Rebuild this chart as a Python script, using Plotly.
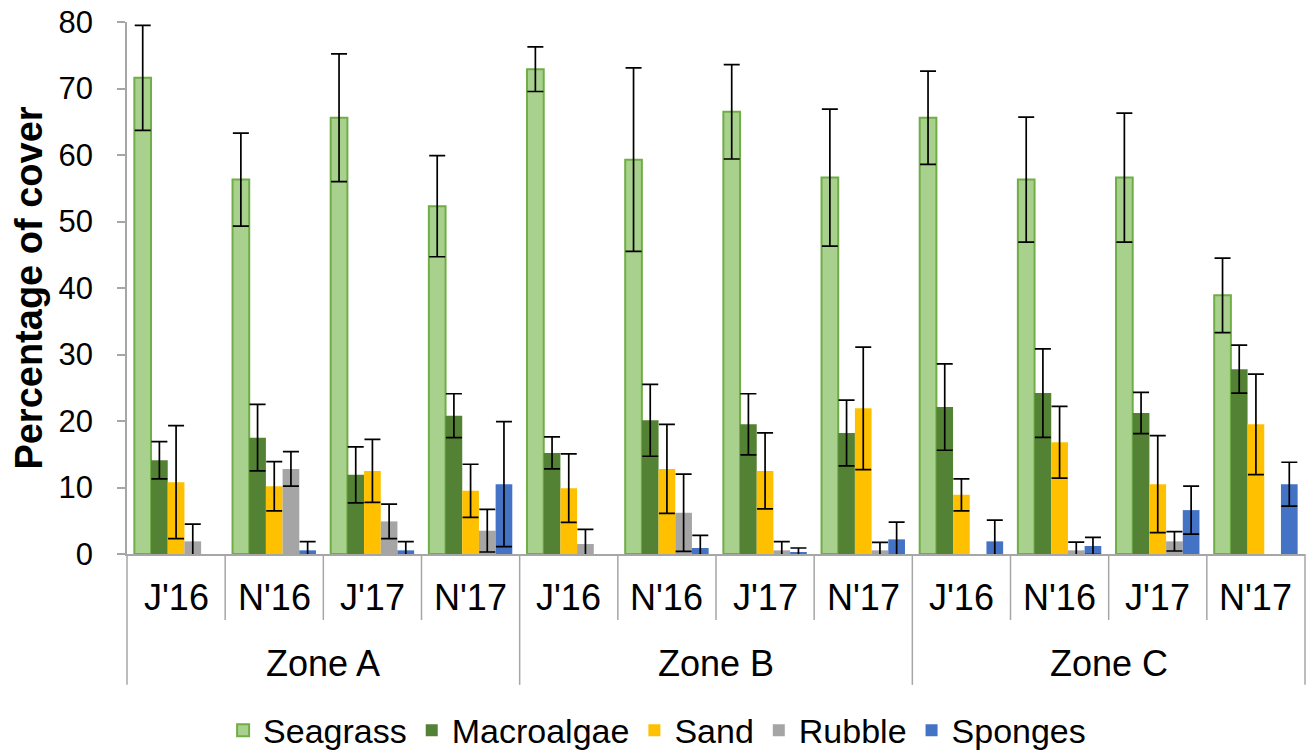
import plotly.graph_objects as go

zones = ["Zone A", "Zone B", "Zone C"]
periods = ["J'16", "N'16", "J'17", "N'17"]

seagrass = [71.6, 56.3, 65.6, 52.3, 72.9, 59.3, 66.5, 56.6, 65.6, 56.3, 56.6, 38.9]
seagrass_err = [7.9, 7.0, 9.6, 7.6, 3.35, 13.8, 7.1, 10.3, 7.0, 9.4, 9.7, 5.6]
macroalgae = [14.1, 17.5, 11.9, 20.8, 15.2, 20.1, 19.5, 18.2, 22.1, 24.2, 21.2, 27.8]
macroalgae_err = [2.8, 5.0, 4.2, 3.3, 2.4, 5.4, 4.6, 4.95, 6.5, 6.65, 3.1, 3.6]
sand = [10.8, 10.2, 12.5, 9.5, 9.9, 12.8, 12.5, 21.9, 8.9, 16.8, 10.5, 19.5]
sand_err = [8.5, 3.7, 4.75, 4.0, 5.15, 6.7, 5.7, 9.2, 2.4, 5.4, 7.3, 7.55]
rubble = [1.9, 12.8, 4.9, 3.5, 1.5, 6.2, 0.55, 0.55, None, 0.55, 1.9, None]
rubble_err = [2.6, 2.6, 2.6, 3.2, 2.2, 5.8, 1.3, 1.2, None, 1.25, 1.45, None]
sponges = [None, 0.55, 0.55, 10.5, None, 0.9, 0.2, 2.2, 1.9, 1.2, 6.6, 10.5]
sponges_err = [None, 1.3, 1.3, 9.4, None, 1.9, 0.7, 2.6, 3.2, 1.3, 3.6, 3.3]

y_ticks = [0, 10, 20, 30, 40, 50, 60, 70, 80]

outer = [z for z in zones for _ in periods]
inner = [p for _ in zones for p in periods]
x = [outer, inner]

FONT = "Liberation Sans, Arial, sans-serif"
AXIS_GRAY = "#A6A6A6"

series = [
    ("Seagrass", seagrass, seagrass_err, "#A9D18E", "#70AD47", 2),
    ("Macroalgae", macroalgae, macroalgae_err, "#548235", "#548235", 0),
    ("Sand", sand, sand_err, "#FFC000", "#FFC000", 0),
    ("Rubble", rubble, rubble_err, "#A5A5A5", "#A5A5A5", 0),
    ("Sponges", sponges, sponges_err, "#4472C4", "#4472C4", 0),
]

fig = go.Figure()
for name, vals, errs, fill, line, lw in series:
    fig.add_trace(go.Bar(
        name=name, x=x, y=vals,
        marker=dict(color=fill, line=dict(color=line, width=lw)),
        error_y=dict(type="data", array=errs, visible=True,
                     color="black", thickness=1.7, width=8),
    ))

n = len(inner)
per = len(periods)
shapes = []
annotations = []
for i in range(n + 1):
    is_outer = (i % per == 0)
    shapes.append(dict(
        type="line", xref="paper", yref="paper",
        x0=i / n, x1=i / n, y0=0, y1=(-0.246 if is_outer else -0.124),
        line=dict(color=AXIS_GRAY, width=1.5),
    ))
for i, lab in enumerate(inner):
    annotations.append(dict(
        text=lab, xref="paper", yref="paper", x=(i + 0.5) / n, y=-0.081,
        xanchor="center", yanchor="middle", showarrow=False,
        font=dict(size=36, family=FONT, color="black"),
    ))
for j, z in enumerate(zones):
    annotations.append(dict(
        text=z, xref="paper", yref="paper", x=(j * per + per / 2) / n, y=-0.205,
        xanchor="center", yanchor="middle", showarrow=False,
        font=dict(size=36, family=FONT, color="black"),
    ))

fig.update_layout(
    width=1312, height=750,
    margin=dict(l=127, r=7, t=22, b=196, autoexpand=False),
    paper_bgcolor="white", plot_bgcolor="white",
    barmode="group", bargap=0.15, bargroupgap=0,
    font=dict(family=FONT, color="black"),
    showlegend=True,
    legend=dict(orientation="h", x=0.45, xanchor="center", y=-0.332, yanchor="middle",
                font=dict(size=34, family=FONT), itemwidth=30, tracegroupgap=0),
    shapes=shapes,
    annotations=annotations,
)

fig.update_yaxes(
    range=[0, 80], tickvals=y_ticks, showgrid=False, zeroline=False,
    showline=True, linecolor=AXIS_GRAY, linewidth=1.5,
    ticks="outside", ticklen=8, tickcolor=AXIS_GRAY, tickwidth=1.5,
    tickfont=dict(size=31, family=FONT), ticklabelstandoff=18,
    title=dict(text="<b>Percentage of cover</b>", font=dict(size=38, family=FONT), standoff=4),
)
fig.update_xaxes(
    type="multicategory", showgrid=False, zeroline=False,
    showline=True, linecolor=AXIS_GRAY, linewidth=2,
    ticks="", showdividers=False, showticklabels=False,
)

fig.write_html("out.html")
